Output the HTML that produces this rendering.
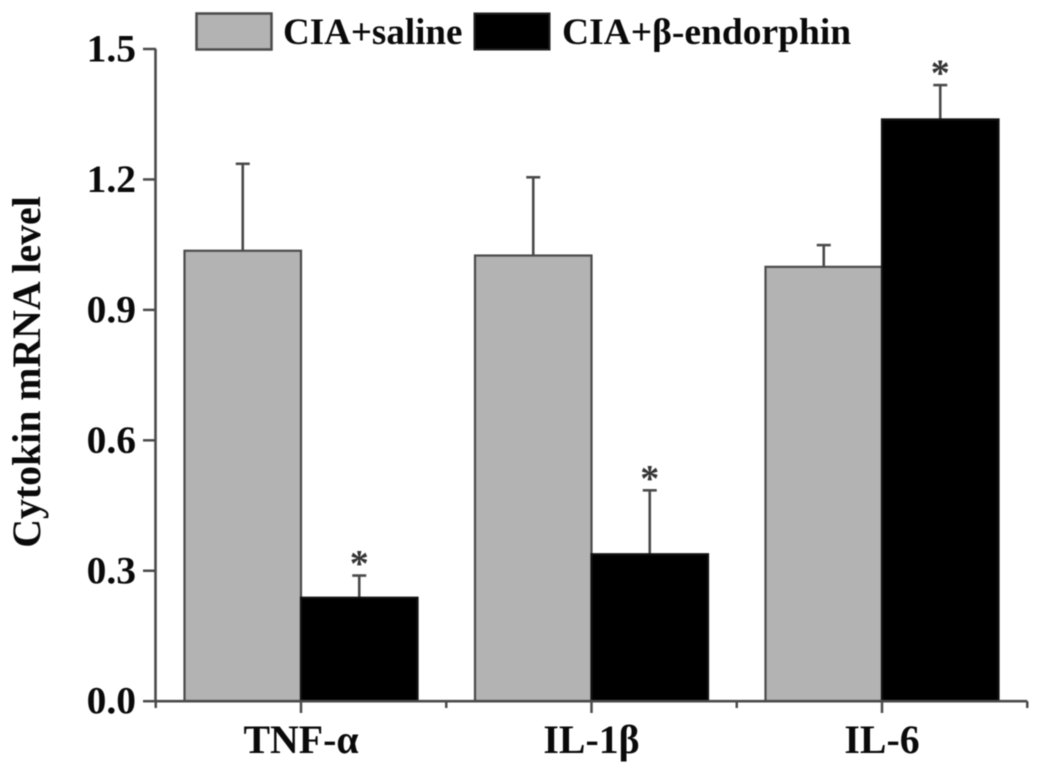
<!DOCTYPE html>
<html>
<head>
<meta charset="utf-8">
<title>Cytokin mRNA level</title>
<style>
html,body{margin:0;padding:0;background:#fff;width:1042px;height:775px;overflow:hidden}
svg{display:block;filter:blur(0.6px)}
text{font-family:"Liberation Serif",serif;font-weight:bold;fill:#0a0a0a}
</style>
</head>
<body>
<svg id="chart" xmlns="http://www.w3.org/2000/svg" width="1042" height="775" viewBox="0 0 1042 775">
  <rect x="196.5" y="13.5" width="75" height="36" fill="#b3b3b3" stroke="#4a4a4a" stroke-width="2.5"/>
  <text x="283" y="44" font-size="37">CIA+saline</text>
  <rect x="474.5" y="13.5" width="75" height="36" fill="#000" stroke="#222" stroke-width="2"/>
  <text x="562" y="44" font-size="37.5">CIA+β-endorphin</text>
  <text transform="translate(40,372) rotate(-90)" text-anchor="middle" font-size="39.8">Cytokin mRNA level</text>
</svg>
<script>
const categories = ['TNF-α', 'IL-1β', 'IL-6'];
const salineValues = [1.036, 1.025, 0.999];
const salineErrors = [0.200, 0.180, 0.050];
const endorphinValues = [0.238, 0.338, 1.338];
const endorphinErrors = [0.051, 0.147, 0.079];
const yTickValues = [0, 0.3, 0.6, 0.9, 1.2, 1.5];
const significant = [true, true, true];

const NS = 'http://www.w3.org/2000/svg';
const svg = document.getElementById('chart');
const Y0 = 701.2, YPX = 434.8;
const X0 = 301, GROUP = 290.5, BAR = 116.5;
const EDGE = '#4a4a4a';
function yScale(v) { return Y0 - v * YPX; }
function xScale(i) { return X0 + i * GROUP; }
function mk(tag, attrs, text) {
  const el = document.createElementNS(NS, tag);
  for (const k in attrs) el.setAttribute(k, attrs[k]);
  if (text !== undefined) el.textContent = text;
  svg.appendChild(el);
  return el;
}
function line(x1, y1, x2, y2, w, c) {
  return mk('line', {x1: x1, y1: y1, x2: x2, y2: y2, stroke: c || EDGE, 'stroke-width': w || 2.5});
}

function drawBar(i, val, err, side, fill, stroke, key) {
  const cx = xScale(i) + side * BAR / 2;
  const top = yScale(val);
  const errTop = yScale(val + err);
  const stem = line(cx, top, cx, errTop, 2.6);
  
  
  const cap = line(cx - 7, errTop, cx + 7, errTop, 2.6);
  
  
  const x = xScale(i) + (side < 0 ? -BAR : 0);
  const r = mk('rect', {x: x, y: top, width: BAR, height: Y0 - top, fill: fill, stroke: stroke, 'stroke-width': 2.2});
  
  
  return {cx: cx, errTop: errTop};
}

categories.forEach(function (cat, i) {
  drawBar(i, salineValues[i], salineErrors[i], -1, '#b3b3b3', EDGE, 'saline');
  const b = drawBar(i, endorphinValues[i], endorphinErrors[i], 1, '#000', '#111', 'endorphin');
  if (significant[i]) {
    const star = mk('text', {x: b.cx, y: b.errTop + 0.5, 'text-anchor': 'middle', 'font-size': 38, style: 'font-weight:bold;fill:#333'}, '*');
    
    
  }
});

const yAxis = line(155.5, yScale(1.5), 155.5, Y0, 2.6);


const xAxis = line(155.5, Y0, xScale(categories.length - 0.5), Y0, 2.6);



yTickValues.forEach(function (v) {
  const t = line(143, yScale(v), 156, yScale(v), 2.5);
  
  
  const l = mk('text', {x: 136, y: yScale(v) + 12.5, 'text-anchor': 'end', 'font-size': 39.5}, v.toFixed(1));
  
  
});

categories.forEach(function (cat, i) {
  const t = line(xScale(i), Y0, xScale(i), 713, 2.5);
  
  
  const l = mk('text', {x: xScale(i), y: 753, 'text-anchor': 'middle', 'font-size': 39.8}, cat);
  
  
});
for (let i = -0.5; i <= categories.length - 0.5; i += 1) {
  const m = line(xScale(i), Y0, xScale(i), 708, 2.5);
  
  
}
</script>
</body>
</html>
